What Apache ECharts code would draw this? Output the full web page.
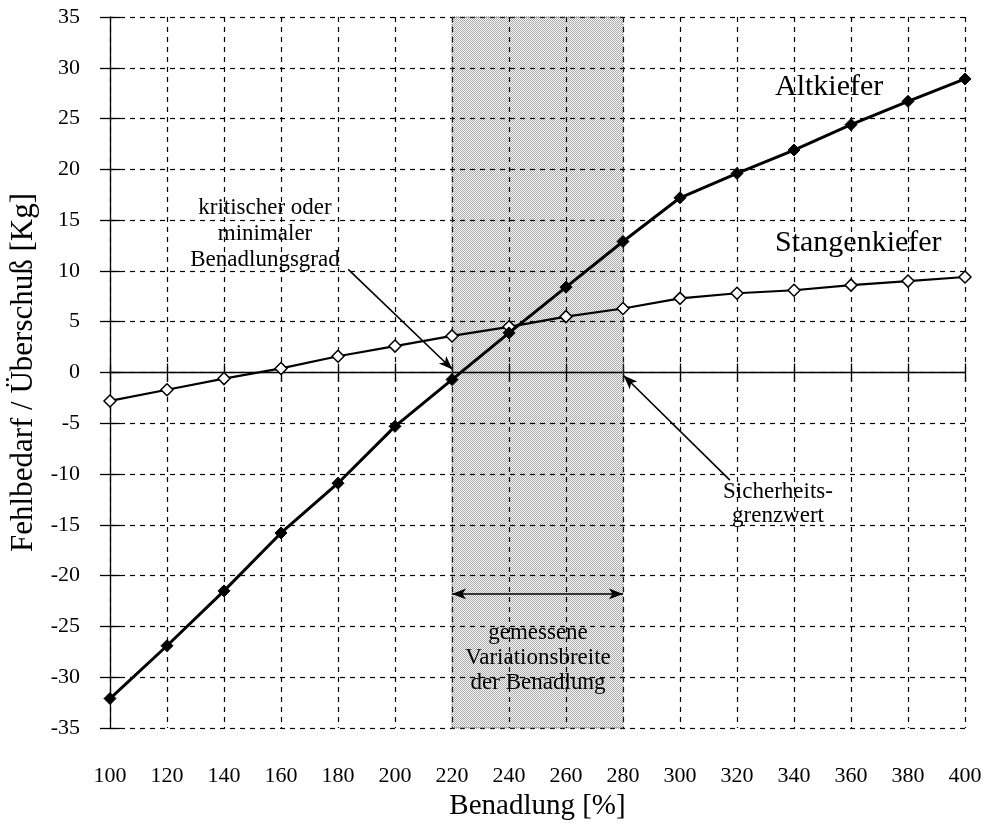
<!DOCTYPE html>
<html>
<head>
<meta charset="utf-8">
<script src="https://cdn.jsdelivr.net/npm/echarts@6/dist/echarts.min.js"></script>
<style>
  html, body { margin: 0; padding: 0; background: #fff; }
  #chart { width: 995px; height: 829px; }
</style>
</head>
<body>
<div id="chart"></div>
<script>
var benadlung = [100, 120, 140, 160, 180, 200, 220, 240, 260, 280, 300, 320, 340, 360, 380, 400];
var altkiefer = [-32.1, -26.9, -21.5, -15.8, -10.9, -5.3, -0.7, 3.9, 8.4, 12.9, 17.2, 19.6, 21.9, 24.4, 26.7, 28.9];
var stangenkiefer = [-2.8, -1.7, -0.6, 0.4, 1.6, 2.6, 3.6, 4.5, 5.5, 6.3, 7.3, 7.8, 8.1, 8.6, 9.0, 9.4];
var bandRange = [220, 280];

var FONT = '"Liberation Serif", "DejaVu Serif", serif';

function pairs(ys) {
  return benadlung.map(function (x, i) { return [x, ys[i]]; });
}

// stipple pattern for the measured range
var pat = document.createElement('canvas');
pat.width = 2; pat.height = 2;
var pctx = pat.getContext('2d');
pctx.fillStyle = 'rgba(0,0,0,0.04)';
pctx.fillRect(0, 0, 2, 2);
pctx.fillStyle = 'rgba(0,0,0,0.3)';
pctx.fillRect(0, 0, 1, 1);
pctx.fillRect(1, 1, 1, 1);

var chart = echarts.init(document.getElementById('chart'));

var xBase = { type: 'value', min: 100, max: 400, interval: 20 };
var yBase = { type: 'value', min: -35, max: 35, interval: 5 };

chart.setOption({
  animation: false,
  textStyle: { fontFamily: FONT, color: '#000' },
  grid: { left: 110, right: 30, top: 17, bottom: 101 },
  xAxis: [
    Object.assign({}, xBase, {
      position: 'bottom',
      axisLine: { show: false, onZero: false },
      axisTick: { show: false },
      axisLabel: { fontSize: 22, fontFamily: FONT, color: '#000', margin: 37 },
      splitLine: { show: true, lineStyle: { color: '#000', type: [5, 5], width: 1.2 } },
      name: 'Benadlung [%]',
      nameLocation: 'middle',
      nameGap: 62,
      nameTextStyle: { fontSize: 29, fontFamily: FONT, color: '#000' }
    }),
    Object.assign({}, xBase, {
      position: 'bottom',
      axisLine: { show: true, onZero: true, lineStyle: { color: '#000', width: 1.3 } },
      axisTick: { show: true, inside: false, length: 9, lineStyle: { color: '#000', width: 1.3 } },
      axisLabel: { show: false },
      splitLine: { show: false }
    }),
    Object.assign({}, xBase, {
      position: 'bottom',
      axisLine: { show: false, onZero: true },
      axisTick: { show: true, inside: true, length: 9, lineStyle: { color: '#000', width: 1.3 } },
      axisLabel: { show: false },
      splitLine: { show: false }
    })
  ],
  yAxis: [
    Object.assign({}, yBase, {
      position: 'left',
      axisLine: { show: true, onZero: false, lineStyle: { color: '#000', width: 1.3 } },
      axisTick: { show: true, inside: false, length: 10, lineStyle: { color: '#000', width: 1.3 } },
      axisLabel: { fontSize: 22, fontFamily: FONT, color: '#000', margin: 30 },
      splitLine: { show: true, lineStyle: { color: '#000', type: [5, 5], width: 1.2 } },
      name: 'Fehlbedarf / Überschuß [Kg]',
      nameLocation: 'middle',
      nameGap: 71,
      nameTextStyle: { fontSize: 31, fontFamily: FONT, color: '#000' }
    }),
    Object.assign({}, yBase, {
      position: 'left',
      offset: 0,
      axisLine: { show: false, onZero: false },
      axisTick: { show: true, inside: true, length: 10, lineStyle: { color: '#000', width: 1.3 } },
      axisLabel: { show: false },
      splitLine: { show: false }
    })
  ],
  series: [
    {
      name: 'Stangenkiefer',
      type: 'line',
      data: pairs(stangenkiefer),
      symbol: 'diamond',
      symbolSize: 12,
      z: 3,
      lineStyle: { color: '#000', width: 2.2 },
      itemStyle: { color: '#fff', borderColor: '#000', borderWidth: 1.5 },
      markArea: {
        silent: true,
        itemStyle: { color: { image: pat, repeat: 'repeat' }, borderColor: '#666', borderWidth: 1, borderType: 'dotted' },
        data: [[{ xAxis: bandRange[0] }, { xAxis: bandRange[1] }]]
      },
      markLine: {
        silent: true,
        symbol: ['none', 'arrow'],
        symbolSize: [8, 14],
        label: { show: false },
        lineStyle: { color: '#000', width: 1.6, type: 'solid' },
        data: [
          [{ coord: [183.6, 10.15] }, { coord: [220.2, 0.3] }],
          [{ coord: [317.5, -10.6] }, { coord: [280.2, -0.3] }],
          [{ coord: [220, -21.8], symbol: 'arrow' }, { coord: [280, -21.8], symbol: 'arrow' }]
        ]
      }
    },
    {
      name: 'Altkiefer',
      type: 'line',
      data: pairs(altkiefer),
      symbol: 'diamond',
      symbolSize: 12,
      z: 4,
      lineStyle: { color: '#000', width: 3 },
      itemStyle: { color: '#000', borderColor: '#000', borderWidth: 1 }
    }
  ],
  graphic: [
    { type: 'text', left: 775, top: 72, style: { text: 'Altkiefer', font: '30px ' + FONT, fill: '#000' } },
    { type: 'text', left: 775, top: 228, style: { text: 'Stangenkiefer', font: '30px ' + FONT, fill: '#000' } },
    { type: 'text', x: 265, y: 195, style: { text: 'kritischer oder\nminimaler\nBenadlungsgrad', font: '23px ' + FONT, fill: '#000', align: 'center', lineHeight: 26 } },
    { type: 'text', x: 778, y: 480, style: { text: 'Sicherheits-\ngrenzwert', font: '23px ' + FONT, fill: '#000', align: 'center', lineHeight: 24 } },
    { type: 'text', x: 538, y: 620, style: { text: 'gemessene\nVariationsbreite\nder Benadlung', font: '23px ' + FONT, fill: '#000', align: 'center', lineHeight: 25 } }
  ]
});
</script>
</body>
</html>
